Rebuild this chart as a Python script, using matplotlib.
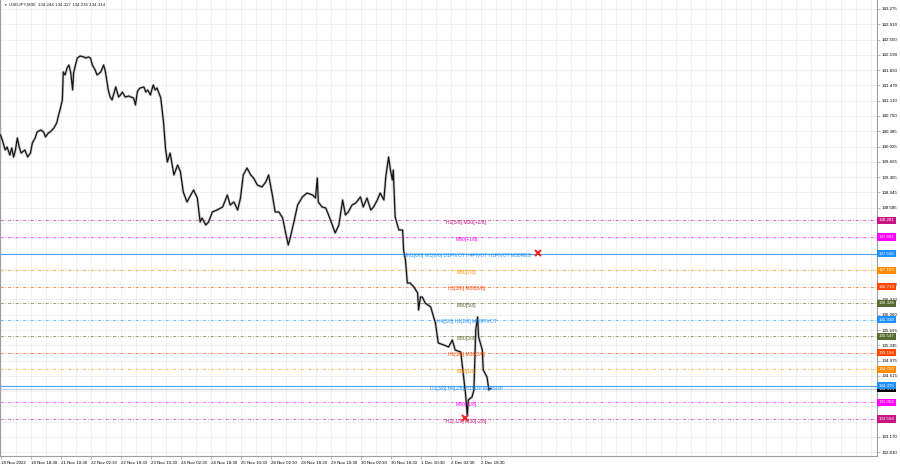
import matplotlib
matplotlib.use("Agg")
import matplotlib.pyplot as plt
import matplotlib.transforms as mtransforms
import numpy as np

plt.rcParams['font.family'] = ['Liberation Sans', 'DejaVu Sans']

# USDJPY M30, bar index (from 18 Nov 2022 02:30) and price
bars = [0, 2, 5, 7, 10, 12, 14, 16, 18, 20, 22, 26, 29, 32, 34, 37, 39, 43, 46, 48,
        51, 53, 57, 60, 62, 64, 66, 67, 69, 71, 73, 75, 77, 78, 80, 82, 85, 89, 91, 94,
        96, 98, 101, 103, 107, 110, 112, 115, 117, 119, 123, 126, 128, 130, 133, 137, 139, 142, 144, 146,
        147, 149, 153, 155, 157, 160, 162, 163, 165, 167, 171, 174, 176, 178, 181, 185, 189, 192, 195, 199,
        203, 206, 210, 213, 215, 219, 222, 226, 231, 237, 242, 245, 249, 253, 256, 259, 263, 267, 270, 274,
        279, 283, 286, 290, 293, 297, 301, 304, 307, 309, 313, 317, 322, 327, 333, 336, 338, 339, 343, 347,
        350, 354, 357, 361, 365, 368, 371, 375, 379, 384, 387, 391, 395, 398, 402, 405, 409, 411, 414, 416,
        418, 419, 421, 425, 429, 430, 432, 434, 437, 441, 445, 446, 448, 450, 453, 459, 462, 464, 467, 473,
        478, 482, 485, 491, 494, 496, 498, 499, 503, 505, 507, 509, 510, 514, 515, 519, 521, 523]
closes = [140.298, 140.180, 139.944, 140.015, 139.826, 139.992, 139.779, 139.944, 140.228, 140.015,
          139.873, 139.944, 139.779, 139.873, 140.110, 140.228, 140.369, 140.416, 140.369, 140.251,
          140.346, 140.369, 140.464, 140.582, 140.771, 140.936, 141.125, 141.786, 141.715, 141.880,
          141.951, 141.762, 141.361, 141.762, 141.951, 142.116, 142.163, 142.140, 142.116, 142.140,
          142.116, 141.951, 141.833, 141.715, 141.786, 141.951, 141.786, 141.361, 141.195, 141.125,
          141.432, 141.195, 141.243, 141.313, 141.195, 141.219, 141.195, 141.172, 141.007, 141.313,
          141.361, 141.408, 141.432, 141.313, 141.361, 141.243, 141.408, 141.479, 141.361, 141.408,
          141.172, 140.582, 139.992, 139.661, 139.873, 139.354, 139.590, 139.425, 138.953, 138.717,
          138.882, 139.000, 138.811, 138.245, 138.339, 138.174, 138.245, 138.481, 138.528, 138.599,
          138.882, 138.646, 138.717, 138.528, 138.811, 139.354, 139.519, 139.354, 139.283, 139.118,
          139.071, 139.189, 139.354, 138.882, 138.481, 138.481, 138.339, 138.009, 137.702, 137.867,
          138.245, 138.646, 138.835, 138.929, 138.882, 138.811, 139.283, 138.717, 138.599, 138.575,
          138.410, 138.174, 137.985, 138.174, 138.764, 138.410, 138.481, 138.646, 138.693, 138.835,
          138.599, 138.811, 138.528, 138.599, 138.764, 138.929, 138.764, 139.307, 139.779, 139.472,
          139.236, 139.472, 138.363, 138.056, 138.056, 137.584, 137.348, 136.805, 136.805, 136.710,
          136.568, 136.167, 136.474, 136.474, 136.332, 136.238, 136.002, 135.860, 135.388, 135.341,
          135.294, 135.459, 135.223, 135.176, 134.585, 134.208, 133.665, 134.043, 134.113, 134.279,
          135.695, 136.002, 135.530, 135.223, 134.751, 134.585, 134.279, 134.314]

# Murrey / pivot levels
level_prices = [138.281, 137.891, 137.500, 137.109, 136.719, 136.328, 135.938,
                135.547, 135.156, 134.766, 134.375, 133.984, 133.594]
level_names = ["H1[5/8] M30[+2/8]", "M30[+1/8]",
               "MN1[6/8] W1[6/8] D1PIVOT H4PIVOT H1PIVOT M30RES",
               "M30[7/8]", "H1[3/8] M30[6/8]", "M30[5/8]",
               "H4[3/8] H1[2/8] M30PIVOT", "M30[3/8]", "H1[1/8] M30[2/8]",
               "M30[1/8]", "D1[3/8] H4[2/8] H1SUP M30SUP", "M30[-1/8]",
               "H1[-1/8] M30[-2/8]"]
level_colors = ["#c71585", "#ff00ff", "#1e90ff", "#ff8c00", "#ff4500", "#556b2f", "#1e90ff",
                "#556b2f", "#ff4500", "#ff8c00", "#1e90ff", "#ff00ff", "#c71585"]
level_solid = [False, False, True, False, False, False, False,
               False, False, False, True, False, False]

cross_bars = [573, 496]
cross_prices = [137.513, 133.618]

bid = 134.314
title = "USDJPY,M30  134.244 134.327 134.236 134.314"

yticks = [143.275, 142.910, 142.550, 142.190, 141.830, 141.470, 141.110, 140.750, 140.385,
          140.025, 139.665, 139.305, 138.945, 138.585, 138.225, 137.860, 137.500, 137.140,
          136.780, 136.420, 136.060, 135.695, 135.335, 134.975, 134.615, 134.255, 133.890,
          133.530, 133.170, 132.810]
# scale labels hidden behind the level boxes
hidden_ticks = [138.225, 137.860, 137.500, 137.140, 134.255, 133.890, 133.530]
xlabels = ["18 Nov 2022", "18 Nov 18:30", "21 Nov 10:30", "22 Nov 02:30", "22 Nov 18:30",
           "23 Nov 10:30", "24 Nov 02:30", "24 Nov 18:30", "25 Nov 10:30", "28 Nov 02:30",
           "28 Nov 18:30", "29 Nov 10:30", "30 Nov 02:30", "30 Nov 18:30", "1 Dec 10:30",
           "2 Dec 02:30", "2 Dec 18:30"]

fs = 3.2
fig = plt.figure(figsize=(9, 4.68), dpi=100)
ax = fig.add_axes([0, 1 - 456 / 468, 877 / 900, 456 / 468])

ax.set_xlim(-0.5, 935)
ax.set_ylim(132.721, 143.485)

# grid
ax.set_xticks(np.arange(1, 935, 16), minor=True)
ax.set_xticks(np.arange(len(xlabels)) * 32 + 1)
ax.set_xticklabels(xlabels, ha='left')
ax.set_yticks(yticks)
ax.set_yticklabels(["" if v in hidden_ticks else "%.3f" % v for v in yticks])
ax.yaxis.tick_right()
ax.grid(True, which='both', color='#ebebeb', lw=0.5)
ax.set_axisbelow(True)
ax.tick_params(axis='both', labelsize=fs, length=2, width=0.4, color='#808080', pad=1.5)
ax.tick_params(axis='x', which='minor', length=0)
for s in ['left', 'right', 'bottom']:
    ax.spines[s].set_color('#a0a0a0')
    ax.spines[s].set_linewidth(0.8)
ax.spines['top'].set_visible(False)

# price
ax.plot(bars, closes, color='#8c8c8c', lw=2.0, alpha=0.45, zorder=3)
ax.plot(bars, closes, color='#151515', lw=0.9, zorder=4)

trans = mtransforms.blended_transform_factory(ax.transAxes, ax.transData)

# bid line
ax.axhline(bid, color='#a8c4e0', lw=0.6, zorder=2)
ax.text(1.002, bid, "%.3f" % bid, transform=trans, fontsize=fs, color='white',
        ha='left', va='center', zorder=6, clip_on=False,
        bbox=dict(boxstyle='square,pad=0.35', fc='black', ec='none'))

for p, name, c, solid in zip(level_prices, level_names, level_colors, level_solid):
    if solid:
        ax.axhline(p, color=c, lw=0.8, alpha=0.8, zorder=2)
    else:
        ax.axhline(p, color=c, lw=0.6, alpha=0.7, ls=(0, (4, 2, 1, 2)), zorder=2)
    ax.text(497, p + 0.01, name, color=c, fontsize=3.6, ha='center', va='top', zorder=5)
    ax.text(1.002, p, "%.3f" % p, transform=trans, fontsize=fs, color='white',
            ha='left', va='center', zorder=7, clip_on=False,
            bbox=dict(boxstyle='square,pad=0.35', fc=c, ec='none'))

ax.plot(cross_bars, cross_prices, 'x', color='#ee2a2a', ms=5, mew=1.5, zorder=6)

fig.text(3 / 900, 1 - 5 / 468, "\u25bc", fontsize=2.5, va='center', color='#303030')
fig.text(9 / 900, 1 - 5 / 468, title, fontsize=fs, va='center', color='#202020')

fig.savefig("out.png", dpi=100, facecolor='white')
